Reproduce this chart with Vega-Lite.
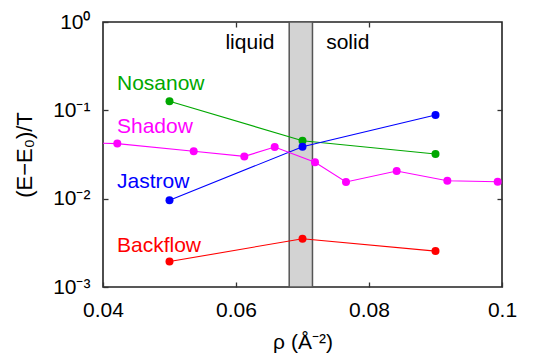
{
  "$schema": "https://vega.github.io/schema/vega-lite/v6.json",
  "width": 399,
  "height": 265,
  "autosize": {"type": "none"},
  "padding": {"left": 103, "top": 22, "right": 45, "bottom": 73},
  "background": "white",
  "config": {
    "font": "Liberation Sans",
    "view": {"stroke": "#222", "strokeWidth": 1.6},
    "axis": {"domain": false, "grid": false, "ticks": true, "tickColor": "#333", "tickWidth": 1.3, "labelColor": "black", "titleColor": "black", "labelFont": "Liberation Sans", "titleFont": "Liberation Sans", "labelFontSize": 21, "titleFontSize": 21, "titleFontWeight": "normal"}
  },
  "datasets": {
    "series": [
      {"model": "Nosanow", "rho": 0.05, "e": 0.1265},
      {"model": "Nosanow", "rho": 0.07, "e": 0.0453},
      {"model": "Nosanow", "rho": 0.09, "e": 0.032},
      {"model": "Jastrow", "rho": 0.05, "e": 0.00958},
      {"model": "Jastrow", "rho": 0.07, "e": 0.0388},
      {"model": "Jastrow", "rho": 0.09, "e": 0.0885},
      {"model": "Backflow", "rho": 0.05, "e": 0.00194},
      {"model": "Backflow", "rho": 0.07, "e": 0.00352},
      {"model": "Backflow", "rho": 0.09, "e": 0.00255},
      {"model": "Shadow", "rho": 0.0345, "e": 0.0432},
      {"model": "Shadow", "rho": 0.04215, "e": 0.042},
      {"model": "Shadow", "rho": 0.05364, "e": 0.0344},
      {"model": "Shadow", "rho": 0.06125, "e": 0.0301},
      {"model": "Shadow", "rho": 0.06582, "e": 0.0384},
      {"model": "Shadow", "rho": 0.07188, "e": 0.0258},
      {"model": "Shadow", "rho": 0.07654, "e": 0.01544},
      {"model": "Shadow", "rho": 0.08416, "e": 0.0206},
      {"model": "Shadow", "rho": 0.09178, "e": 0.01597},
      {"model": "Shadow", "rho": 0.09935, "e": 0.01556}
    ],
    "labels": [
      {"model": "Nosanow", "text": "Nosanow", "rho": 0.0421, "e": 0.1987},
      {"model": "Shadow", "text": "Shadow", "rho": 0.0421, "e": 0.0648},
      {"model": "Jastrow", "text": "Jastrow", "rho": 0.0421, "e": 0.01544},
      {"model": "Backflow", "text": "Backflow", "rho": 0.0421, "e": 0.00291}
    ],
    "phases": [
      {"text": "liquid", "rho": 0.0621, "e": 0.578},
      {"text": "solid", "rho": 0.0768, "e": 0.578}
    ],
    "band": [{"a": 0.068, "b": 0.0715}]
  },
  "layer": [
    {
      "data": {"name": "band"},
      "mark": {"type": "rect", "fill": "#d3d3d3", "stroke": "#555", "strokeWidth": 1.5},
      "encoding": {
        "x": {"field": "a", "type": "quantitative", "scale": {"domain": [0.04, 0.1]}, "axis": null},
        "x2": {"field": "b"}
      }
    },
    {
      "data": {"name": "series"},
      "mark": {"type": "line", "strokeWidth": 1.1, "clip": true},
      "encoding": {
        "x": {"field": "rho", "type": "quantitative", "scale": {"domain": [0.04, 0.1], "nice": false, "zero": false},
          "axis": {"orient": "bottom", "values": [0.04, 0.06, 0.08, 0.1], "tickSize": -5, "labelPadding": 17, "labelExpr": "datum.value > 0.099 ? '0.1' : format(datum.value, '.2f')", "title": "ρ (Å⁻²)", "titlePadding": 11, "labelFlush": false}},
        "y": {"field": "e", "type": "quantitative", "scale": {"type": "log", "domain": [0.001, 1], "nice": false},
          "axis": {"orient": "left", "values": [0.001, 0.01, 0.1, 1], "tickSize": -5, "labelPadding": 18, "labelExpr": "datum.value > 0.5 ? '10⁰' : datum.value > 0.05 ? '10⁻¹' : datum.value > 0.005 ? '10⁻²' : '10⁻³'", "title": "(E−E₀)/T", "titleFontSize": 22, "titleX": -67, "titleAnchor": "middle", "labelFlush": false}},
        "color": {"field": "model", "type": "nominal", "scale": {"domain": ["Nosanow", "Shadow", "Jastrow", "Backflow"], "range": ["#00a800", "#ff00ff", "#0000ff", "#ff0000"]}, "legend": null},
        "detail": {"field": "model"}
      }
    },
    {
      "data": {"name": "series"},
      "mark": {"type": "circle", "size": 64, "opacity": 1, "clip": true},
      "encoding": {
        "x": {"field": "rho", "type": "quantitative", "axis": null},
        "y": {"field": "e", "type": "quantitative", "axis": null},
        "color": {"field": "model", "type": "nominal", "legend": null}
      }
    },
    {
      "data": {"name": "labels"},
      "mark": {"type": "text", "align": "left", "baseline": "middle", "fontSize": 21, "font": "Liberation Sans"},
      "encoding": {
        "x": {"field": "rho", "type": "quantitative", "axis": null},
        "y": {"field": "e", "type": "quantitative", "axis": null},
        "text": {"field": "text"},
        "color": {"field": "model", "type": "nominal", "legend": null}
      }
    },
    {
      "data": {"name": "phases"},
      "mark": {"type": "text", "align": "center", "baseline": "middle", "fontSize": 21, "font": "Liberation Sans", "color": "black"},
      "encoding": {
        "x": {"field": "rho", "type": "quantitative", "axis": {"orient": "top", "values": [0.06, 0.08], "tickSize": -5, "labels": false, "title": null}},
        "y": {"field": "e", "type": "quantitative", "axis": {"orient": "right", "values": [0.01, 0.1], "tickSize": -5, "labels": false, "title": null}},
        "text": {"field": "text"}
      }
    }
  ],
  "resolve": {"axis": {"x": "independent", "y": "independent"}}
}
